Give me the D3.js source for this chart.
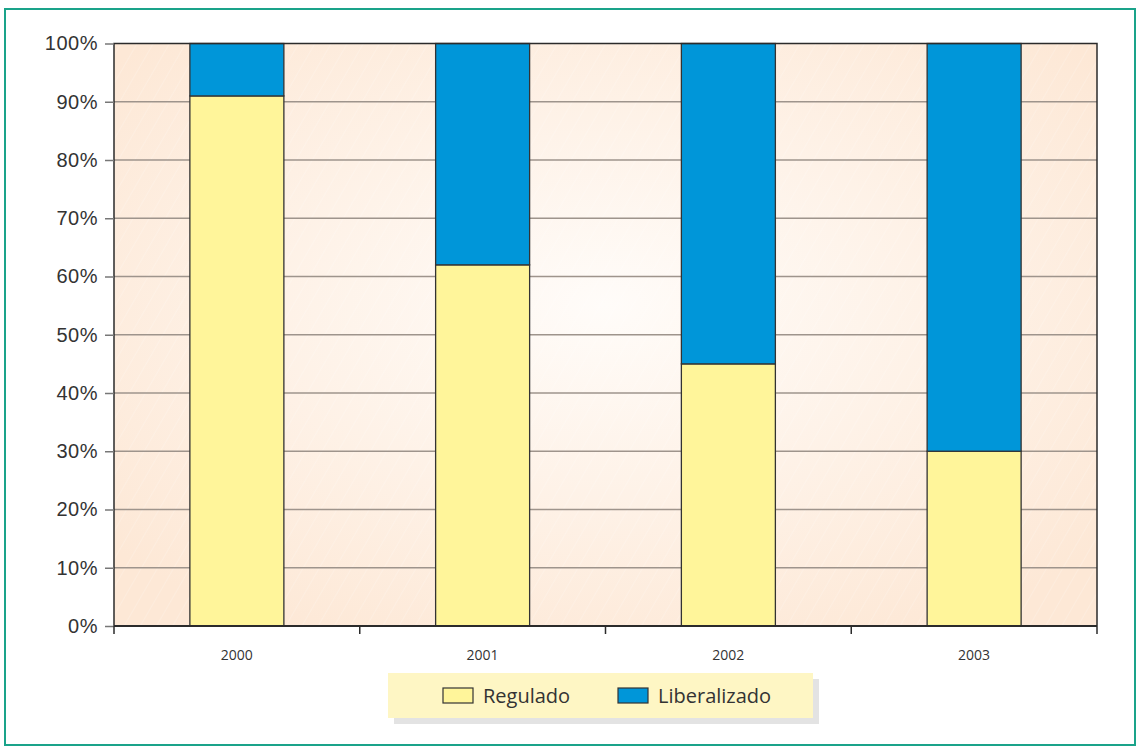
<!DOCTYPE html>
<html><head><meta charset="utf-8">
<script src="https://cdn.jsdelivr.net/npm/d3@7"></script>
<style>body{margin:0;background:#fff;}svg{display:block;font-family:"Open Sans","Noto Sans",sans-serif;}</style>
</head><body>
<svg id="c" width="1138" height="747"></svg>
<script>
const years = ["2000","2001","2002","2003"];
const regulado = [91, 62, 45, 30];
const liberalizado = [9, 38, 55, 70];
const seriesNames = ["Regulado","Liberalizado"];
const seriesColors = ["#fff59a","#0096d9"];
const yTicks = [0,10,20,30,40,50,60,70,80,90,100];

const svg = d3.select("#c");
const L=114,R=1097,T=43.5,B=626;
const defs = svg.append("defs");
const rg = defs.append("radialGradient").attr("id","bg").attr("cx","50%").attr("cy","45%").attr("r","65%");
rg.append("stop").attr("offset","0%").attr("stop-color","#fffcf9");
rg.append("stop").attr("offset","100%").attr("stop-color","#fde8d6");
const pat = defs.append("pattern").attr("id","hatch").attr("width",14).attr("height",14).attr("patternUnits","userSpaceOnUse").attr("patternTransform","rotate(30)");
pat.append("line").attr("x1",0).attr("y1",0).attr("x2",0).attr("y2",14).attr("stroke","#ffffff").attr("stroke-width",1).attr("opacity",0.35);

// frame
svg.append("rect").attr("x",5).attr("y",9).attr("width",1130).attr("height",736).attr("fill","#fff").attr("stroke","#1aa38a").attr("stroke-width",2);

const x = d3.scaleBand().domain(years).range([L,R]).paddingInner(0).paddingOuter(0);
const y = d3.scaleLinear().domain([0,100]).range([B,T]);
const bw = 94;

svg.append("rect").attr("x",L).attr("y",T).attr("width",R-L).attr("height",B-T).attr("fill","url(#bg)");
svg.append("rect").attr("x",L).attr("y",T).attr("width",R-L).attr("height",B-T).attr("fill","url(#hatch)");

// grid
svg.append("g").selectAll("line").data(yTicks.filter(d=>d>0&&d<100)).join("line")
  .attr("x1",L).attr("x2",R).attr("y1",d=>y(d)).attr("y2",d=>y(d)).attr("stroke","#9e948c").attr("stroke-width",1.5);

// bars
const stack = d3.stack().keys([0,1]).value((d,k)=>d[k]);
const data = years.map((yr,i)=>({year:yr,0:regulado[i],1:liberalizado[i]}));
const layers = stack(data);
layers.forEach((layer,k)=>{
  svg.append("g").selectAll("rect").data(layer).join("rect")
    .attr("x",d=>x(d.data.year)+x.bandwidth()/2-bw/2)
    .attr("width",bw)
    .attr("y",d=>y(d[1]))
    .attr("height",d=>y(d[0])-y(d[1]))
    .attr("fill",seriesColors[k]).attr("stroke","#333").attr("stroke-width",1.3);
});

// plot border (top, left, right)
svg.append("path").attr("d",`M${L},${B}V${T}H${R}V${B}`).attr("fill","none").attr("stroke","#2b2b2b").attr("stroke-width",1.5);

// y axis
const yAxis = d3.axisLeft(y).tickValues(yTicks).tickFormat(d=>d+"%").tickSize(9).tickPadding(7);
const ga = svg.append("g").attr("transform",`translate(${L},0)`).call(yAxis);
ga.select(".domain").remove();
ga.selectAll(".tick line").attr("stroke","#777").attr("stroke-width",1.5);
ga.selectAll("text").attr("font-size",20).attr("fill","#333").attr("letter-spacing","0.5px");

// x axis
const xa = svg.append("g").attr("transform",`translate(0,${B})`);
xa.append("line").attr("x1",L).attr("x2",R).attr("y1",0).attr("y2",0).attr("stroke","#2b2b2b").attr("stroke-width",2);
const xt = [...years.map(d=>x(d)), R];
xa.selectAll("line.t").data(xt).join("line").attr("class","t").attr("x1",d=>d).attr("x2",d=>d).attr("y1",0).attr("y2",8).attr("stroke","#2b2b2b").attr("stroke-width",1.5);
xa.selectAll("text").data(years).join("text").attr("x",d=>x(d)+x.bandwidth()/2).attr("y",34)
  .attr("text-anchor","middle").attr("font-size",14).attr("fill","#333").text(d=>d);

// legend
const lg = svg.append("g");
lg.append("rect").attr("x",394).attr("y",679).attr("width",425).attr("height",45).attr("fill","#e3e3e3");
lg.append("rect").attr("x",388).attr("y",673).attr("width",425).attr("height",45).attr("fill","#fef6c4");
const lx = [443,618];
seriesNames.forEach((n,i)=>{
  lg.append("rect").attr("x",lx[i]).attr("y",688).attr("width",30).attr("height",15).attr("fill",seriesColors[i]).attr("stroke","#333").attr("stroke-width",1.2);
  lg.append("text").attr("x",lx[i]+40).attr("y",703).attr("font-size",20).attr("fill","#333").text(n);
});
</script>
</body></html>
